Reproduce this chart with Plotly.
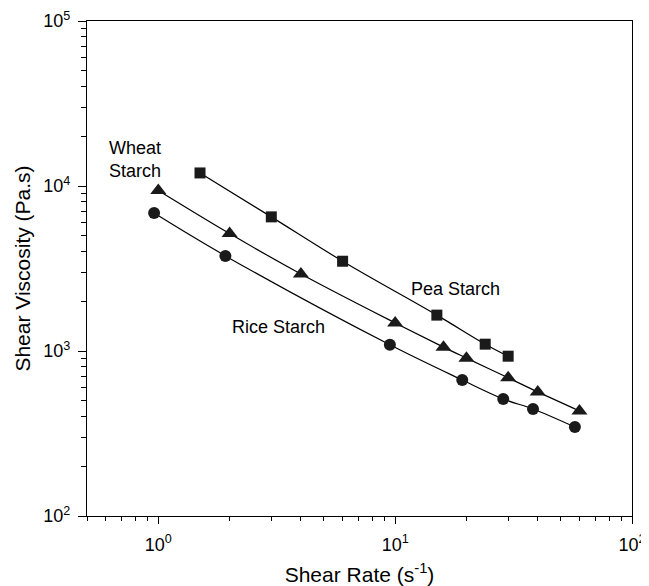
import plotly.graph_objects as go

pea_x = [1.5, 3, 6, 15, 24, 30]
pea_y = [12000, 6500, 3500, 1650, 1100, 930]
wheat_x = [1, 2, 4, 10, 16, 20, 30, 40, 60]
wheat_y = [9400, 5150, 2930, 1480, 1055, 905, 688, 565, 433]
rice_x = [0.96, 1.92, 9.5, 19.2, 28.6, 38.2, 57.4]
rice_y = [6850, 3770, 1090, 667, 512, 445, 346]

x_ticks = [1, 10, 100]
x_ticktext = ["10<sup>0</sup>", "10<sup>1</sup>", "10<sup>2</sup>"]
y_ticks = [100, 1000, 10000, 100000]
y_ticktext = ["10<sup>2</sup>", "10<sup>3</sup>", "10<sup>4</sup>", "10<sup>5</sup>"]

def minors(lo, hi, start=1):
    out = []
    d = lo
    while d < hi:
        for m in range(2, 10):
            v = m * d
            if v >= start and v < hi:
                out.append(v)
        d *= 10
    return out

fig = go.Figure()
for xs, ys, sym, sz in [(pea_x, pea_y, "square", 11),
                        (wheat_x, wheat_y, "triangle-up", 14),
                        (rice_x, rice_y, "circle", 12)]:
    fig.add_trace(go.Scatter(x=xs, y=ys, mode="lines+markers",
                             line=dict(color="black", width=1.2, shape="spline"),
                             marker=dict(symbol=sym, size=sz, color="#1a1a1a"),
                             showlegend=False, cliponaxis=False))

fam = "Liberation Sans, Arial, sans-serif"
tickfont = dict(family=fam, size=18, color="black")
titlefont = dict(family=fam, size=21, color="black")
annfont = dict(family=fam, size=18, color="black")

# page body has an 8px default margin; figure size/margins compensate for it
fig.update_layout(
    width=641, height=578,
    margin=dict(l=79, r=17, t=13, b=70, autoexpand=False),
    plot_bgcolor="white", paper_bgcolor="white",
    font=tickfont,
    xaxis=dict(type="log", range=[-0.30103, 2], tickvals=x_ticks, ticktext=x_ticktext,
               ticks="outside", ticklen=7, tickwidth=1.3, tickcolor="black",
               showline=True, linecolor="black", linewidth=1.3, mirror=True,
               showgrid=False, zeroline=False, automargin=False, tickfont=tickfont,
               ticklabelstandoff=5,
               minor=dict(tickvals=minors(0.1, 100, 0.5), ticks="outside", ticklen=4,
                          tickwidth=1.2, tickcolor="black", showgrid=False),
               title=dict(text="Shear Rate (s<sup>-1</sup>)", font=titlefont, standoff=14)),
    yaxis=dict(type="log", range=[2, 5], tickvals=y_ticks, ticktext=y_ticktext,
               ticks="outside", ticklen=8, tickwidth=1.3, tickcolor="black",
               showline=True, linecolor="black", linewidth=1.3, mirror=True,
               showgrid=False, zeroline=False, automargin=False, tickfont=tickfont,
               ticklabelstandoff=4,
               minor=dict(tickvals=minors(100, 100000), ticks="outside", ticklen=5,
                          tickwidth=1.2, tickcolor="black", showgrid=False),
               title=dict(text="Shear Viscosity (Pa.s)", font=titlefont, standoff=6)),
    annotations=[
        dict(x=-0.215, y=4.158, xref="x", yref="y", text="Wheat<br>Starch", showarrow=False,
             xanchor="left", yanchor="middle", align="left", font=annfont),
        dict(x=1.253, y=3.376, xref="x", yref="y", text="Pea Starch", showarrow=False,
             xanchor="center", yanchor="middle", font=annfont),
        dict(x=0.506, y=3.145, xref="x", yref="y", text="Rice Starch", showarrow=False,
             xanchor="center", yanchor="middle", font=annfont),
    ],
)
fig.write_html("out.html")
